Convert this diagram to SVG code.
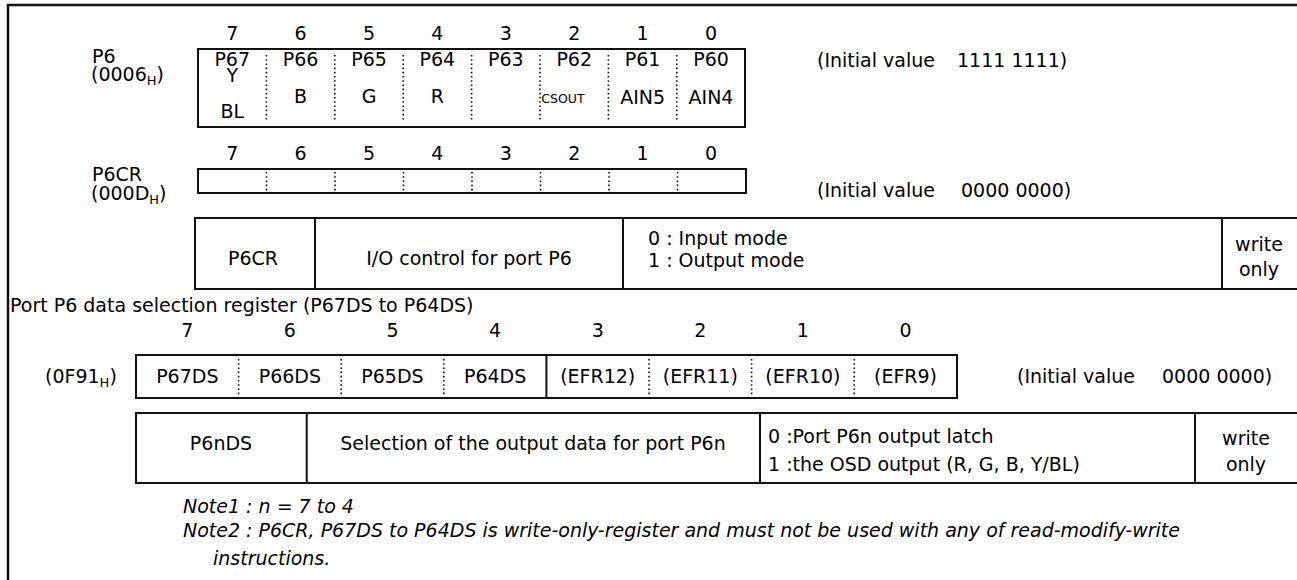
<svg xmlns="http://www.w3.org/2000/svg" width="1297" height="580" viewBox="0 0 1297 580">
<style>
text{font-family:"DejaVu Sans","Liberation Sans",sans-serif;font-size:19px;fill:#000}
.c{text-anchor:middle}
.i{font-style:italic}
.sm{font-size:12.5px}
.sub{font-size:13px}
.box{fill:none;stroke:#111;stroke-width:2}
.ln{stroke:#111;stroke-width:2;fill:none}
.dot{stroke:#111;stroke-width:1.6;stroke-dasharray:1.6 2.6;fill:none}
</style>
<rect width="1297" height="580" fill="#fff"/>
<g id="frame">
<path class="ln" style="stroke-width:2.5" d="M1300 5H8V585"/>
</g>
<g id="reg-p6">
<text x="92" y="63">P6</text>
<text x="91" y="81">(0006<tspan class="sub" dy="4">H</tspan><tspan dy="-4">)</tspan></text>
<g class="c">
<text x="232.2" y="40">7</text><text x="300.6" y="40">6</text><text x="369" y="40">5</text><text x="437.4" y="40">4</text><text x="505.8" y="40">3</text><text x="574.2" y="40">2</text><text x="642.6" y="40">1</text><text x="711" y="40">0</text>
</g>
<rect class="box" x="198" y="49" width="547" height="78"/>
<path class="dot" d="M266.4 55V122M334.8 55V122M403.2 55V122M471.6 55V122M540 55V122M608.4 55V122M676.8 55V122"/>
<g class="c">
<text x="232.2" y="66">P67</text><text x="300.6" y="66">P66</text><text x="369" y="66">P65</text><text x="437.4" y="66">P64</text><text x="505.8" y="66">P63</text><text x="574.2" y="66">P62</text><text x="642.6" y="66">P61</text><text x="711" y="66">P60</text>
<text x="232.2" y="82">Y</text><text x="232.2" y="118">BL</text>
<text x="300.6" y="103">B</text><text x="369" y="103">G</text><text x="437.4" y="103">R</text>
<text class="sm" x="563" y="103">CSOUT</text>
<text x="642.6" y="104">AIN5</text><text x="711" y="104">AIN4</text>
</g>
<text x="817" y="67">(Initial value</text>
<text x="957" y="67">1111 1111)</text>
</g>
<g id="reg-p6cr">
<text x="92" y="181">P6CR</text>
<text x="91" y="200">(000D<tspan class="sub" dy="4">H</tspan><tspan dy="-4">)</tspan></text>
<g class="c">
<text x="232.2" y="160">7</text><text x="300.6" y="160">6</text><text x="369" y="160">5</text><text x="437.4" y="160">4</text><text x="505.8" y="160">3</text><text x="574.2" y="160">2</text><text x="642.6" y="160">1</text><text x="711" y="160">0</text>
</g>
<rect class="box" x="198" y="169" width="548" height="24"/>
<path class="dot" d="M266.5 172V191M335 172V191M403.5 172V191M472 172V191M540.5 172V191M609 172V191M677.5 172V191"/>
<text x="817" y="197">(Initial value</text>
<text x="961" y="197">0000 0000)</text>
</g>
<g id="tbl-p6cr">
<path class="ln" d="M1300 218H195V289H1300M315 218V289M623 218V289M1222 218V289"/>
<text class="c" x="253" y="265">P6CR</text>
<text class="c" x="469" y="265">I/O control for port P6</text>
<text x="648" y="245">0 : Input mode</text>
<text x="648" y="267">1 : Output mode</text>
<text class="c" x="1259" y="251">write</text>
<text class="c" x="1259" y="276">only</text>
</g>
<g id="reg-p6ds">
<text x="10" y="312">Port P6 data selection register (P67DS to P64DS)</text>
<g class="c">
<text x="187.3" y="337">7</text><text x="289.9" y="337">6</text><text x="392.5" y="337">5</text><text x="495.1" y="337">4</text><text x="597.7" y="337">3</text><text x="700.3" y="337">2</text><text x="802.9" y="337">1</text><text x="905.5" y="337">0</text>
</g>
<text x="45" y="383">(0F91<tspan class="sub" dy="4">H</tspan><tspan dy="-4">)</tspan></text>
<rect class="box" x="136" y="355" width="821" height="43"/>
<path class="dot" d="M238.6 359V395M341.2 359V395M443.8 359V395M649 359V395M751.6 359V395M854.2 359V395"/>
<path class="ln" d="M546.4 355V398"/>
<g class="c">
<text x="187.3" y="383">P67DS</text><text x="289.9" y="383">P66DS</text><text x="392.5" y="383">P65DS</text><text x="495.1" y="383">P64DS</text><text x="597.7" y="383">(EFR12)</text><text x="700.3" y="383">(EFR11)</text><text x="802.9" y="383">(EFR10)</text><text x="905.5" y="383">(EFR9)</text>
</g>
<text x="1017" y="383">(Initial value</text>
<text x="1162" y="383">0000 0000)</text>
</g>
<g id="tbl-p6nds">
<path class="ln" d="M1300 413H136V483H1300M306.7 413V483M760 413V483M1195 413V483"/>
<text class="c" x="221" y="450">P6nDS</text>
<text class="c" x="533" y="450">Selection of the output data for port P6n</text>
<text x="768" y="443">0 :Port P6n output latch</text>
<text x="768" y="471">1 :the OSD output (R, G, B, Y/BL)</text>
<text class="c" x="1246" y="445">write</text>
<text class="c" x="1246" y="471">only</text>
</g>
<g id="notes">
<text class="i" x="183" y="513">Note1 : n = 7 to 4</text>
<text class="i" x="183" y="537">Note2 : P6CR, P67DS to P64DS is write-only-register and must not be used with any of read-modify-write</text>
<text class="i" x="213" y="565">instructions.</text>
</g>
<g id="connectors"/>
</svg>
